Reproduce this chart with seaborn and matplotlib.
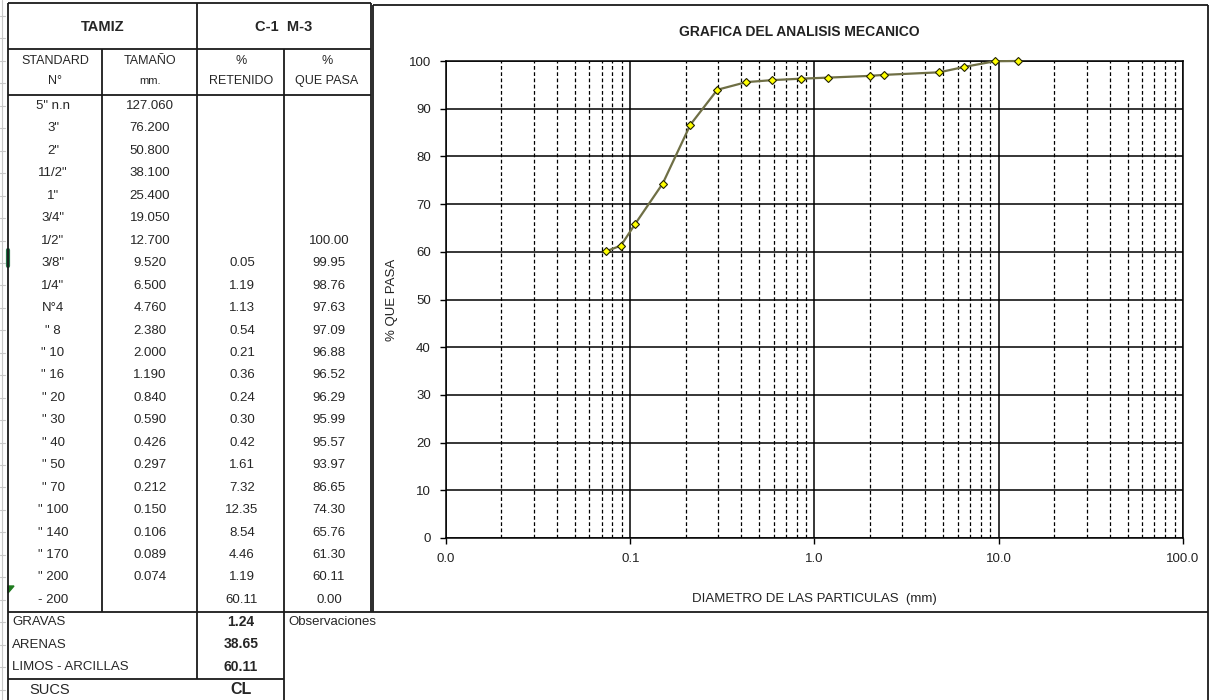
import matplotlib
matplotlib.use("Agg")
import matplotlib.pyplot as plt
from matplotlib.ticker import FixedLocator, FuncFormatter, LogLocator, NullFormatter
import seaborn as sns
import pandas as pd

# table data (sieve analysis C-1 M-3)
standard = ['5" n.n', '3"', '2"', '11/2"', '1"', '3/4"', '1/2"', '3/8"', '1/4"', 'N°4',
            '" 8', '" 10', '" 16', '" 20', '" 30', '" 40', '" 50', '" 70', '" 100',
            '" 140', '" 170', '" 200', '- 200']
tamano = ['127.060', '76.200', '50.800', '38.100', '25.400', '19.050', '12.700', '9.520',
          '6.500', '4.760', '2.380', '2.000', '1.190', '0.840', '0.590', '0.426', '0.297',
          '0.212', '0.150', '0.106', '0.089', '0.074', '']
retenido = [None] * 7 + [0.05, 1.19, 1.13, 0.54, 0.21, 0.36, 0.24, 0.30, 0.42, 1.61,
                         7.32, 12.35, 8.54, 4.46, 1.19, 60.11]
que_pasa = [None] * 6 + [100.00, 99.95, 98.76, 97.63, 97.09, 96.88, 96.52, 96.29, 95.99,
                         95.57, 93.97, 86.65, 74.30, 65.76, 61.30, 60.11, 0.00]

resumen_labels = ['GRAVAS', 'ARENAS', 'LIMOS - ARCILLAS']
resumen_values = ['1.24', '38.65', '60.11']
sucs = 'CL'

# points for the curve: rows with both a size and a passing value
curve = pd.DataFrame({'size': tamano, 'pasa': que_pasa})
curve = curve[(curve['size'] != '') & curve['pasa'].notna()].copy()
curve['size'] = curve['size'].astype(float)

sns.set_style("white")
plt.rcParams['font.family'] = ['Liberation Sans', 'DejaVu Sans']

fig = plt.figure(figsize=(12.12, 7.0), dpi=100)

# background axes in pixel coords for the spreadsheet table
bg = fig.add_axes([0, 0, 1, 1], zorder=0)
bg.set_xlim(0, 1212)
bg.set_ylim(700, 0)
bg.axis('off')

lc = '#1a1a1a'
lw = 1.3

def hline(y, x0, x1, w=lw):
    bg.plot([x0, x1], [y, y], color=lc, lw=w, solid_capstyle='butt')

def vline(x, y0, y1, w=lw):
    bg.plot([x, x], [y0, y1], color=lc, lw=w, solid_capstyle='butt')

# excel row-header remnants on the far left
bg.plot([2, 2], [0, 700], color='#c8c8c8', lw=0.8)
for k in range(32):
    yy = 16 + k * 22.45
    bg.plot([0, 5], [yy, yy], color='#c8c8c8', lw=0.8)
bg.plot([8, 8], [250, 266], color='#217346', lw=3)
bg.fill([8, 14, 8], [586, 586, 593], color='#1e7b1e')

# table grid
hline(3, 8, 371)
hline(49, 8, 371)
hline(95, 8, 371)
hline(612, 8, 1208)
hline(679, 8, 284)
vline(8, 3, 700)
vline(102, 49, 612)
vline(197, 3, 679)
vline(284, 49, 700)
vline(371, 3, 612)
# chart box
hline(5, 373, 1208)
vline(373, 5, 612)
vline(1208, 5, 700)

tfs = 9.5
bg.text(103, 27, 'TAMIZ', ha='center', va='center', fontsize=10.5, fontweight='bold')
bg.text(284, 27, 'C-1  M-3', ha='center', va='center', fontsize=10.5, fontweight='bold')
for x, t1, t2 in [(55, 'STANDARD', 'N°'), (150, 'TAMAÑO', 'mm.'),
                  (241, '%', 'RETENIDO'), (327, '%', 'QUE PASA')]:
    bg.text(x, 61, t1, ha='center', va='center', fontsize=tfs - 0.5)
    bg.text(x, 81, t2, ha='center', va='center', fontsize=tfs - 0.5 if t2 != 'mm.' else 8)

for i in range(len(standard)):
    y = 106 + i * 22.45
    bg.text(53, y, standard[i], ha='center', va='center', fontsize=tfs)
    bg.text(150, y, tamano[i], ha='center', va='center', fontsize=tfs)
    if retenido[i] is not None:
        bg.text(242, y, f'{retenido[i]:.2f}', ha='center', va='center', fontsize=tfs)
    if que_pasa[i] is not None:
        bg.text(329, y, f'{que_pasa[i]:.2f}', ha='center', va='center', fontsize=tfs)

for i, (lab, val) in enumerate(zip(resumen_labels, resumen_values)):
    y = 622 + i * 22.5
    bg.text(12, y, lab, ha='left', va='center', fontsize=tfs)
    bg.text(241, y, val, ha='center', va='center', fontsize=tfs + 0.5, fontweight='bold')
bg.text(50, 690, 'SUCS', ha='center', va='center', fontsize=tfs + 1)
bg.text(241, 690, sucs, ha='center', va='center', fontsize=11.5, fontweight='bold')
bg.text(288, 622, 'Observaciones', ha='left', va='center', fontsize=tfs)

# grain size chart
ax = fig.add_axes([446 / 1212, 1 - 538 / 700, (1183 - 446) / 1212, (538 - 61) / 700], zorder=2)
sns.lineplot(data=curve, x='size', y='pasa', ax=ax, sort=False, color='#6f6f45', lw=1.6,
             marker='D', markersize=4.5, markerfacecolor='#ffff00', markeredgecolor='#222200',
             markeredgewidth=0.8, zorder=5, clip_on=False)
ax.set_xscale('log')
ax.set_xlim(0.01, 100)
ax.set_ylim(0, 100)
ax.xaxis.set_major_locator(FixedLocator([0.01, 0.1, 1, 10, 100]))
ax.xaxis.set_major_formatter(FuncFormatter(lambda v, p: f'{v:.1f}'))
ax.xaxis.set_minor_locator(LogLocator(base=10, subs=[2, 3, 4, 5, 6, 7, 8, 9], numticks=20))
ax.xaxis.set_minor_formatter(NullFormatter())
ax.set_yticks(range(0, 101, 10))

ax.grid(which='major', axis='y', color='black', lw=1.1, ls='-')
ax.grid(which='major', axis='x', color='black', lw=1.1, ls='-')
ax.grid(which='minor', axis='x', color='black', lw=0.9, ls=(0, (3, 2)))
for s in ax.spines.values():
    s.set_color('black')
    s.set_linewidth(1.1)

ax.tick_params(axis='both', which='major', direction='out', length=4, width=1,
               color='black', labelsize=9.5, labelcolor='#222222')
ax.tick_params(axis='y', pad=7)
ax.tick_params(axis='x', pad=7)
ax.tick_params(axis='x', which='minor', length=0)
ax.tick_params(bottom=True, left=True)

ax.set_xlabel('DIAMETRO DE LAS PARTICULAS  (mm)', fontsize=9.5, color='#222222')
ax.set_ylabel('% QUE PASA', fontsize=9.5, color='#222222')
ax.xaxis.set_label_coords(0.5, -0.115)
ax.yaxis.set_label_coords(-0.065, 0.5)
ax.text(0.48, 1.061, 'GRAFICA DEL ANALISIS MECANICO', transform=ax.transAxes,
        ha='center', va='center', fontsize=10, fontweight='bold', color='#222222')

fig.savefig('out.png', dpi=100)
